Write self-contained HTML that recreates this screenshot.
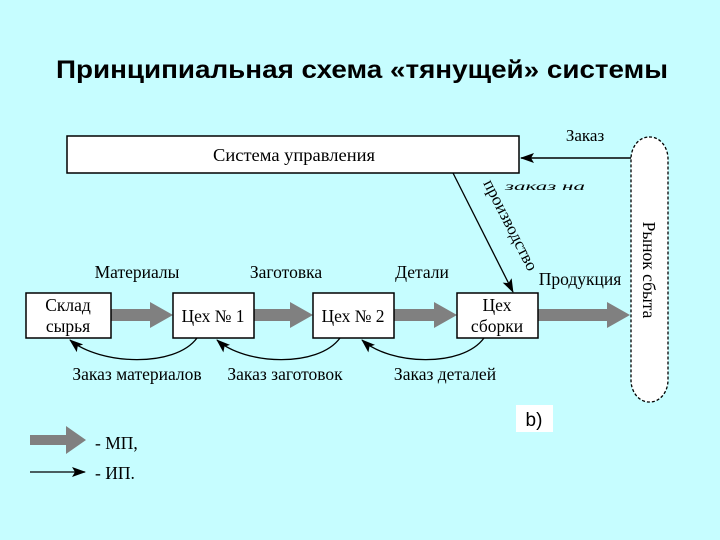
<!DOCTYPE html>
<html><head><meta charset="utf-8"><style>
html,body{margin:0;padding:0;background:#c6fdff;}
svg{display:block;}
text{font-family:"Liberation Serif",serif;fill:#000;}
</style></head><body>
<svg width="720" height="540" viewBox="0 0 720 540" xmlns="http://www.w3.org/2000/svg">
<defs>
<marker id="ah" markerWidth="14" markerHeight="10" refX="13" refY="5" orient="auto" markerUnits="userSpaceOnUse">
<path d="M0,0 L14,5 L0,10 L3,5 z" fill="#000"/></marker>
</defs>
<rect width="720" height="540" fill="#c6fdff"/>
<text x="362" y="78" text-anchor="middle" style="font-family:'Liberation Sans',sans-serif;font-weight:bold;font-size:25px" textLength="612" lengthAdjust="spacingAndGlyphs">Принципиальная схема «тянущей» системы</text>

<rect x="67" y="136" width="452" height="37" fill="#fff" stroke="#000" stroke-width="1.5"/>
<text x="294" y="161" text-anchor="middle" font-size="17.5" textLength="162" lengthAdjust="spacingAndGlyphs">Система управления</text>
<line x1="631" y1="158" x2="521" y2="158" stroke="#000" stroke-width="1.5" marker-end="url(#ah)"/>
<text x="585" y="141" text-anchor="middle" font-size="17">Заказ</text>

<rect x="631" y="137" width="37" height="265" rx="18" ry="22" fill="#fff" stroke="#000" stroke-width="1.3" stroke-dasharray="3,2"/>
<text transform="translate(643,270) rotate(90)" text-anchor="middle" font-size="17.5">Рынок сбыта</text>

<line x1="453" y1="173" x2="513" y2="292" stroke="#000" stroke-width="1.3" marker-end="url(#ah)"/>
<text transform="translate(483,183) rotate(63)" font-size="17" textLength="100" lengthAdjust="spacingAndGlyphs">производство</text>
<text x="505" y="190" font-size="12" font-style="italic" textLength="80" lengthAdjust="spacingAndGlyphs">заказ на</text>

<g fill="#808080">
<polygon points="111,309 150,309 150,302 173,315 150,328 150,321 111,321"/>
<polygon points="254,309 290,309 290,302 313,315 290,328 290,321 254,321"/>
<polygon points="394,309 434,309 434,302 457,315 434,328 434,321 394,321"/>
<polygon points="538,309 607,309 607,302 630,315 607,328 607,321 538,321"/>
<polygon points="30,435 66,435 66,426 86,440 66,454 66,445 30,445"/>
</g>

<g fill="#fff" stroke="#000" stroke-width="1.5">
<rect x="26" y="293" width="85" height="45"/>
<rect x="173" y="293" width="81" height="45"/>
<rect x="313" y="293" width="81" height="45"/>
<rect x="457" y="293" width="81" height="45"/>
</g>
<g font-size="17.5" text-anchor="middle">
<text x="68" y="311">Склад</text><text x="68" y="332">сырья</text>
<text x="213" y="322">Цех № 1</text>
<text x="353" y="322">Цех № 2</text>
<text x="497" y="311">Цех</text><text x="497" y="332">сборки</text>
<text x="137" y="278">Материалы</text>
<text x="286" y="278">Заготовка</text>
<text x="422" y="278">Детали</text>
<text x="580" y="285">Продукция</text>
<text x="137" y="380">Заказ материалов</text>
<text x="285" y="380">Заказ заготовок</text>
<text x="445" y="380">Заказ деталей</text>
</g>

<g fill="none" stroke="#000" stroke-width="1.3">
<path d="M197,338 C175,368 100,365 70,340" marker-end="url(#ah)"/>
<path d="M340,338 C318,368 245,365 217,340" marker-end="url(#ah)"/>
<path d="M484,338 C462,368 390,365 362,340" marker-end="url(#ah)"/>
<line x1="30" y1="472" x2="85" y2="472" marker-end="url(#ah)"/>
</g>

<rect x="516" y="405" width="37" height="27" fill="#fff"/>
<text x="534" y="426" text-anchor="middle" font-size="19" style="font-family:'Liberation Sans',sans-serif">b)</text>
<text x="95" y="449" font-size="17.5">- МП,</text>
<text x="95" y="479" font-size="17.5">- ИП.</text>
</svg>
</body></html>
